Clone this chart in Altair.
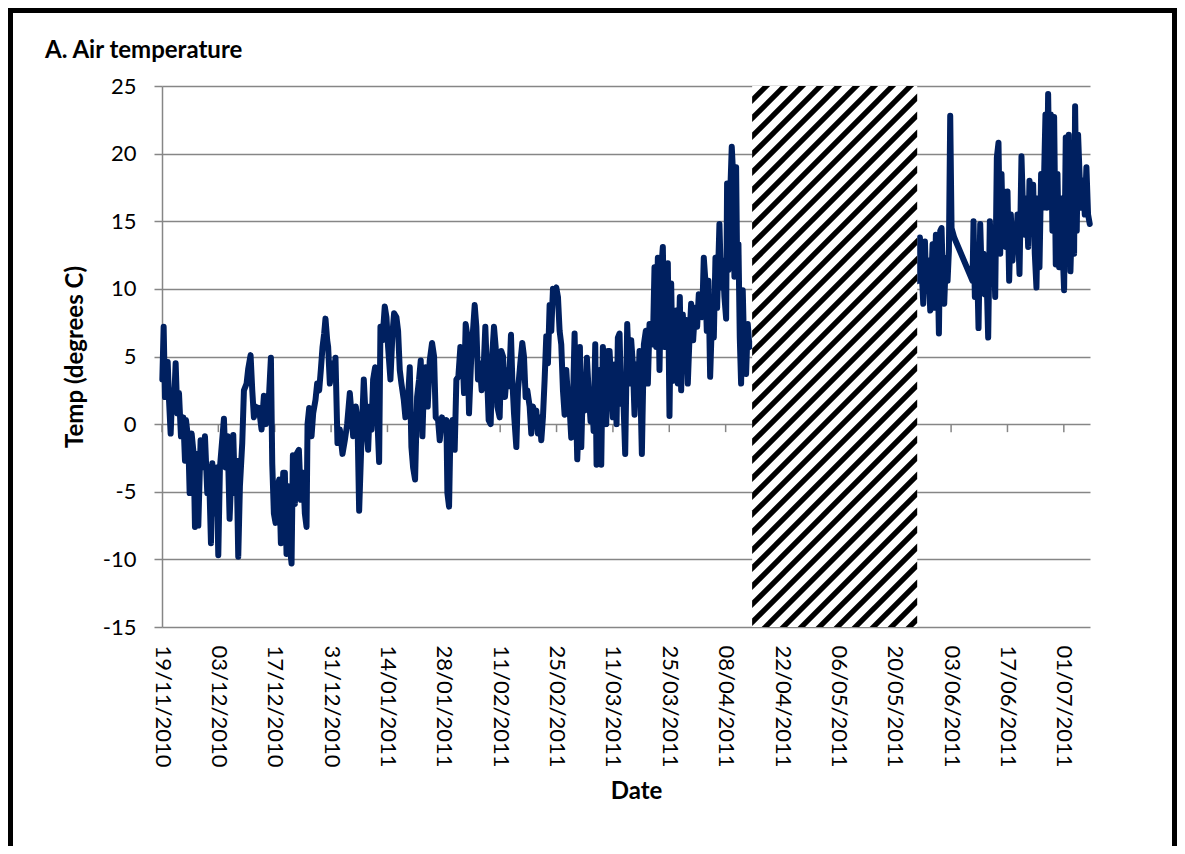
import altair as alt
import numpy as np
import pandas as pd

# ---------------- data ----------------
START = "2010-11-19T00:00:00"
END = "2011-07-07T12:00:00"
GAP = ["2011-04-14T14:00:00", "2011-05-25T14:00:00"]   # hatched, no data

TICK_LABELS = ["19/11/2010", "03/12/2010", "17/12/2010", "31/12/2010", "14/01/2011",
               "28/01/2011", "11/02/2011", "25/02/2011", "11/03/2011", "25/03/2011",
               "08/04/2011", "22/04/2011", "06/05/2011", "20/05/2011", "03/06/2011",
               "17/06/2011", "01/07/2011"]
Y_TICKS = [-15, -10, -5, 0, 5, 10, 15, 20, 25]

# days since START / temperature (degrees C)
days_a = [0.08, 0.41, 0.74, 1.41, 1.74, 2.15, 2.56, 2.98, 3.39, 3.80, 4.22, 4.71, 5.29, 5.71, 5.96,
          6.53, 6.87, 7.36, 7.86, 8.19, 8.60, 9.02, 9.59, 10.01, 10.67, 11.25, 11.66, 12.16, 12.49,
          13.15, 13.56, 13.98, 14.39, 14.81, 15.38, 15.80, 16.29, 16.79, 17.29, 17.70, 18.11, 18.53,
          18.94, 19.35, 19.93, 20.35, 21.01, 21.42, 22.00, 22.42, 22.83, 23.24, 23.74, 24.07, 24.73,
          25.31, 25.81, 26.39, 27.05, 27.38, 27.79, 28.21, 28.70, 29.12, 29.53, 30.11, 30.52, 30.93,
          31.35, 31.76, 32.18, 32.51, 33.00, 33.42, 34.00, 34.49, 35.07, 35.48, 35.90, 36.15, 36.56,
          37.14, 37.55, 38.13, 38.54, 39.04, 39.45, 39.87, 40.28, 40.61, 41.03, 41.27, 41.69, 42.10,
          42.68, 43.09, 43.59]
temps_a = [3.3, 7.2, 2.0, 4.6, 1.8, -0.7, 2.5, 1.5, 4.5, 0.8, 2.3, -0.9, 0.5, -2.7, 0.3, -1.2, -5.1,
           -0.7, -2.2, -7.6, -2.2, -7.5, -1.2, -3.2, -0.9, -5.1, -3.2, -8.8, -2.9, -6.6, -3.2, -9.7,
           -3.2, -1.7, 0.4, -3.2, -0.9, -7.0, -3.2, -0.8, -5.1, -2.7, -9.8, -4.6, -1.4, 2.5, 3.0, 4.1,
           5.1, 2.5, 0.5, 1.3, 0.8, 1.2, -0.4, 2.1, 0.0, 1.0, 4.9, -2.9, -6.6, -7.3, -4.6, -4.1, -8.8,
           -3.6, -3.6, -9.6, -4.6, -9.1, -10.3, -2.3, -5.9, -2.2, -1.9, -5.6, -3.6, -6.6, -7.6, 0.0,
           1.2, -0.9, 0.8, 1.8, 3.0, 2.5, 4.0, 5.7, 6.7, 7.8, 6.2, 5.7, 3.0, 4.5, 3.3, 4.9, -1.4]

days_b = [44.17, 44.83, 45.41, 45.99, 46.65, 47.06, 47.48, 48.14, 48.55, 48.97, 49.54, 50.12, 50.62,
          51.20, 51.61, 52.03, 52.44, 52.94, 53.43, 53.93, 54.26, 54.76, 55.33, 55.75, 56.16, 56.74,
          57.24, 57.65, 58.23, 58.64, 59.06, 59.47, 60.05, 60.46, 61.13, 61.54, 61.95, 62.37, 62.86,
          63.36, 63.85, 64.27, 64.68, 65.01, 65.51, 66.00, 66.50, 67.08, 67.58, 67.99, 68.57, 68.98,
          69.56, 69.98, 70.64, 70.89, 71.30, 71.63, 72.13, 72.70, 73.12, 73.61, 74.11, 74.61, 75.02,
          75.43, 75.85, 76.26, 76.84, 77.25, 77.67, 78.08, 78.49, 78.91, 79.40, 79.90, 80.31, 80.73,
          81.14, 81.64, 82.05, 82.46, 82.88, 83.29, 83.87, 84.28, 84.70, 85.19, 85.69, 86.19, 86.68,
          87.01, 87.43, 88.01, 88.42, 89.00, 89.49, 89.91, 90.32, 90.74, 91.32, 91.73, 92.14, 92.56,
          92.97, 93.38, 93.80, 94.21, 94.62, 95.04, 95.45, 95.86, 96.28, 96.69, 97.11]
temps_b = [-0.4, -2.2, -1.2, 0.0, 2.3, 0.8, -0.9, 1.3, 0.3, -6.4, -1.2, 3.3, 0.3, -1.9, 1.3, -0.4,
           3.3, 4.2, 0.8, -2.8, 7.2, 6.2, 8.7, 7.9, 5.7, 3.3, 6.7, 8.2, 7.9, 6.9, 4.0, 3.0, 1.8, 0.5,
           2.0, 4.2, -1.7, -3.2, -4.1, 2.0, 3.3, 4.7, -0.9, 2.5, 4.2, 1.3, 4.7, 6.0, 5.0, 0.5, 0.3,
           -1.2, 0.5, -0.4, 0.3, -5.1, -6.1, -0.7, 0.3, -1.9, 3.3, 3.5, 5.7, 5.4, 2.3, 7.4, 6.5, 0.8,
           5.2, 6.9, 8.8, 7.2, 3.3, 4.5, 2.5, 4.2, 7.2, 3.7, 0.3, 0.0, 5.2, 7.2, 5.7, 1.3, 0.5, 5.4,
           5.0, 2.0, 4.0, 2.8, 6.6, 3.3, 0.8, -1.7, 2.5, 4.5, 6.0, 5.0, 2.0, 2.5, 1.3, -0.7, 1.3, 0.8,
           1.0, -0.7, 0.5, -1.2, 0.5, 3.3, 6.5, 4.5, 8.8, 6.9, 10.0]

days_c = [97.52, 97.93, 98.35, 98.76, 99.17, 99.59, 100.00, 100.41, 100.83, 101.24, 101.65, 102.07,
          102.48, 102.89, 103.14, 103.47, 103.80, 104.14, 104.55, 104.96, 105.54, 105.96, 106.45,
          106.78, 107.20, 107.61, 107.94, 108.27, 108.68, 109.10, 109.51, 109.93, 110.34, 110.75,
          111.17, 111.58, 111.99, 112.41, 112.90, 113.23, 113.65, 114.06, 114.47, 115.05, 115.55,
          116.13, 116.54, 116.96, 117.37, 117.78, 118.20, 118.61, 119.19, 119.69, 120.18, 120.68,
          121.09, 121.51, 121.92, 122.33, 122.75, 123.16, 123.57, 123.99, 124.40, 124.81, 125.23,
          125.64, 126.05, 126.47, 126.88, 127.30, 127.71, 128.12, 128.62, 128.95, 129.36, 129.78,
          130.19, 130.60, 131.02, 131.43, 131.93, 132.42, 132.92, 133.33, 133.75, 134.16, 134.57,
          134.90, 135.32, 135.73, 136.15, 136.56, 137.06, 137.47, 137.88, 138.46, 138.88, 139.29,
          139.70, 140.12, 140.36, 140.69, 141.11, 141.52, 141.93, 142.18, 142.60, 142.85, 143.18,
          143.51, 143.84, 144.25, 144.67, 145.08, 145.49, 145.91, 146.49]
temps_c = [9.9, 10.1, 9.4, 6.9, 5.9, 2.5, 0.7, 4.0, 2.0, 1.2, -1.0, 1.5, 6.7, 0.7, -2.6, 0.0, 5.7,
           -1.7, 3.0, 1.0, 4.9, 2.5, 0.2, 2.5, -0.5, 5.9, -3.0, 0.5, 4.0, -3.0, 5.7, 2.0, 0.0, 5.4,
           5.4, 3.0, 0.5, 4.4, 0.0, 6.4, 6.7, 1.5, 3.0, -2.2, 7.4, 3.0, 6.2, 4.4, 0.7, 4.4, 2.0, 5.4,
           -2.2, 5.9, 6.9, 3.0, 7.4, 6.4, 5.9, 11.6, 5.7, 12.3, 4.0, 11.4, 13.1, 5.7, 7.9, 11.9, 0.6,
           10.4, 3.2, 5.9, 8.4, 3.0, 9.4, 2.5, 8.1, 5.7, 7.7, 3.0, 6.4, 8.9, 6.2, 8.6, 7.2, 9.6, 8.9,
           7.9, 12.3, 10.9, 6.9, 10.6, 3.5, 7.4, 6.4, 12.3, 8.6, 14.8, 10.1, 12.1, 9.4, 7.8, 17.8,
           11.4, 16.8, 20.5, 18.0, 10.9, 19.0, 11.9, 13.3, 6.4, 3.0, 9.9, 4.4, 3.7, 7.4, 5.7, 5.9]

days_d = [187.84, 188.25, 188.67, 189.08, 189.50, 189.83, 190.32, 190.82, 191.40, 191.81, 192.22,
          192.64, 192.97, 193.30, 193.63, 193.96, 194.29, 194.71, 195.12, 195.45, 195.78, 196.11,
          196.77, 201.32, 201.57, 201.90, 202.40, 202.81, 203.23, 203.64, 204.05, 204.38, 204.80,
          205.21, 205.62, 206.04, 206.53, 206.95, 207.36, 207.77, 208.19, 208.52, 208.85, 209.18,
          209.59, 210.01, 210.42, 210.84, 211.25, 211.66, 212.08, 212.49, 212.99, 213.48, 213.90,
          214.31, 214.72, 215.14, 215.47, 215.96, 216.38, 216.79, 217.20, 217.62, 217.95, 218.36,
          218.78, 219.11, 219.44, 219.77, 220.10, 220.43, 220.76, 221.17, 221.59, 222.00, 222.42,
          222.83, 223.24, 223.66, 224.07, 224.48, 224.90, 225.23, 225.64, 226.14, 226.55, 226.80,
          227.21, 227.54, 227.96, 228.37, 228.78, 229.20, 229.61, 230.02, 230.44]
temps_d = [10.6, 13.8, 11.6, 8.9, 13.5, 10.1, 12.1, 8.4, 13.3, 8.6, 14.0, 12.1, 6.7, 14.3, 14.5,
           10.6, 8.9, 12.3, 10.6, 12.8, 22.8, 14.5, 13.8, 10.6, 15.0, 9.4, 12.6, 7.1, 14.8, 10.6,
           12.6, 9.6, 11.1, 6.4, 15.0, 12.6, 14.5, 9.4, 19.7, 20.8, 12.6, 18.5, 14.0, 17.2, 13.1,
           17.2, 10.6, 15.5, 12.1, 14.5, 12.8, 15.5, 11.1, 19.8, 15.5, 14.0, 16.7, 13.1, 18.0, 15.0,
           17.7, 12.6, 10.1, 16.7, 11.6, 18.5, 16.0, 18.5, 22.9, 16.0, 24.4, 18.0, 22.9, 14.3, 22.7,
           11.8, 18.5, 11.6, 16.7, 13.1, 9.9, 21.2, 12.3, 21.4, 11.3, 16.7, 12.6, 23.5, 14.3, 21.4,
           18.0, 16.0, 18.0, 15.5, 19.0, 15.5, 14.8]

# ---------------- styles / layout ----------------
W, H = 928, 541
PAD = {"left": 154, "top": 78, "right": 87, "bottom": 219}
LINE_COLOR = "#002060"
GRID = "#868686"
FONT = "Lato"
FS = 22          # tick labels
TFS = 24         # titles
TICK_LEN = 8     # px
HATCH_PERIOD = 18.0   # horizontal px between stripes
HATCH_BLACK = 7.5     # horizontal px of a black stripe

start = pd.Timestamp(START)
end = pd.Timestamp(END)
span_days = (end - start) / pd.Timedelta(days=1)
ymin, ymax = Y_TICKS[0], Y_TICKS[-1]


def to_dt(ts):
    ts = pd.Timestamp(ts)
    return alt.DateTime(year=ts.year, month=ts.month, date=ts.day,
                        hours=ts.hour, minutes=ts.minute)


def label_ts(s):
    d, m, y = s.split("/")
    return pd.Timestamp(year=int(y), month=int(m), day=int(d))


x_domain = [to_dt(start), to_dt(end)]
tick_values = [to_dt(label_ts(s)) for s in TICK_LABELS]

days = days_a + days_b + days_c + days_d
temps = temps_a + temps_b + temps_c + temps_d
n = min(len(days), len(temps))
df = pd.DataFrame({
    "date": (start + pd.to_timedelta(np.array(days[:n]), unit="D")).round("s"),
    "temp": temps[:n],
})

tick_df = pd.DataFrame({"date": [label_ts(s) for s in TICK_LABELS],
                        "y0": 0.0, "y1": -TICK_LEN / H * (ymax - ymin)})

gap_df = pd.DataFrame({"start": [pd.Timestamp(GAP[0])], "end": [pd.Timestamp(GAP[1])],
                       "top": [ymax], "bottom": [ymin]})

# hatch stripes (45 degree "/" bands) computed in pixel space, mapped back to data
g0 = (pd.Timestamp(GAP[0]) - start) / pd.Timedelta(days=1)
g1 = (pd.Timestamp(GAP[1]) - start) / pd.Timedelta(days=1)
xa, xb = g0 / span_days * W, g1 / span_days * W
rows = []
c1 = xa - HATCH_BLACK
k = 0
while c1 < xb + H:
    c2 = c1 + HATCH_BLACK
    lo, hi = max(xa, c1 - H), min(xb, c2)
    if lo < hi:
        xs = sorted(set([lo, hi] + [v for v in (c1, c2 - H) if lo < v < hi]))
        for X in xs:
            top = max(0.0, c1 - X)
            bot = min(float(H), c2 - X)
            rows.append({"stripe": k,
                         "date": (start + pd.Timedelta(days=X / W * span_days)).round("s"),
                         "y1": ymax - top / H * (ymax - ymin),
                         "y2": ymax - bot / H * (ymax - ymin)})
    c1 += HATCH_PERIOD
    k += 1
hatch_df = pd.DataFrame(rows)

xscale = alt.Scale(domain=x_domain)
yscale = alt.Scale(domain=[ymin, ymax], nice=False, zero=False)

zero_ticks = alt.Chart(tick_df).mark_rule(color=GRID, strokeWidth=1.5).encode(
    x=alt.X("date:T", scale=xscale, axis=None),
    y=alt.Y("y0:Q", scale=yscale, axis=None),
    y2="y1:Q",
)

line = alt.Chart(df).mark_line(color=LINE_COLOR, strokeWidth=6, strokeJoin="round",
                               strokeCap="round").encode(
    x=alt.X("date:T", scale=xscale,
            axis=alt.Axis(orient="bottom", values=tick_values, format="%d/%m/%Y",
                          labelAngle=90, labelAlign="left", labelBaseline="middle",
                          labelPadding=18, ticks=False, tickSize=0, domain=False, grid=False,
                          labelFont=FONT, labelFontSize=FS, labelColor="black",
                          labelOverlap=False, labelFlush=False,
                          title="Date", titleFont=FONT, titleFontSize=TFS,
                          titleFontWeight="bold", titleColor="black", titleX=474, titleY=171,
                          titleAlign="center", titleBaseline="alphabetic")),
    y=alt.Y("temp:Q", scale=yscale,
            axis=alt.Axis(orient="left", values=Y_TICKS, grid=True, gridColor=GRID,
                          gridWidth=1.5, domain=True, domainColor=GRID, domainWidth=1.5,
                          ticks=True, tickSize=TICK_LEN, tickColor=GRID, tickWidth=1.5,
                          labelExpr="toString(datum.value)",
                          labelFont=FONT, labelFontSize=FS, labelColor="black",
                          labelPadding=18,
                          title="Temp (degrees C)", titleFont=FONT, titleFontSize=TFS,
                          titleFontWeight="bold", titleColor="black", titleAngle=-90,
                          titleX=-80, titleY=H / 2, titleAlign="center",
                          titleBaseline="alphabetic")),
)

gap_rect = alt.Chart(gap_df).mark_rect(color="white").encode(
    x=alt.X("start:T", scale=xscale, axis=None),
    x2="end:T",
    y=alt.Y("top:Q", scale=yscale, axis=None),
    y2="bottom:Q",
)

stripes = alt.Chart(hatch_df).mark_area(color="black", interpolate="linear").encode(
    x=alt.X("date:T", scale=xscale, axis=None),
    y=alt.Y("y1:Q", scale=yscale, axis=None),
    y2="y2:Q",
    detail="stripe:N",
)

one = pd.DataFrame({"a": [0]})
frame = alt.Chart(one).mark_rect(filled=False, stroke="black", strokeWidth=5).encode(
    x=alt.value(-PAD["left"] + 2.5), x2=alt.value(W + PAD["right"] - 2.5),
    y=alt.value(-PAD["top"] + 2.5), y2=alt.value(H + PAD["bottom"] + 60),
)

title = alt.Chart(one).mark_text(text="A. Air temperature", font=FONT, fontSize=TFS,
                                 fontWeight="bold", align="left", baseline="alphabetic",
                                 color="black").encode(
    x=alt.value(-117), y=alt.value(-28),
)

chart = alt.layer(zero_ticks, line, gap_rect, stripes, frame, title).resolve_axis(
    x="independent", y="independent"
).properties(
    width=W, height=H, padding=PAD, autosize=alt.AutoSizeParams(type="none"),
    background="white",
).configure_view(stroke=None)

chart.save("out.html", embed_options={"renderer": "svg", "actions": False})
